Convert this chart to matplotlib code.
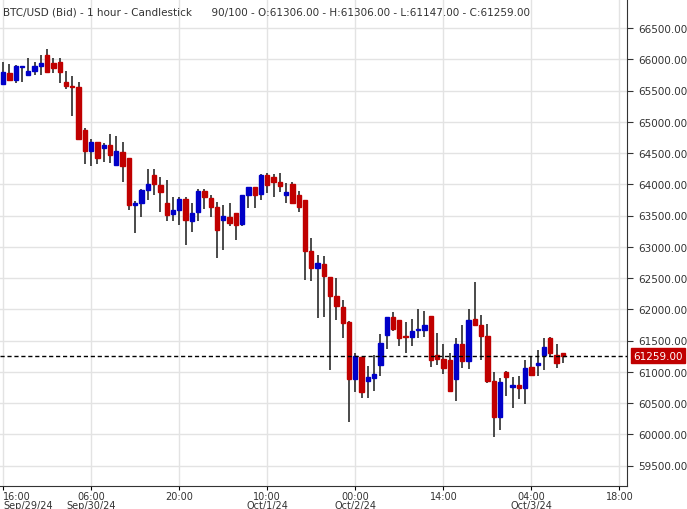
import numpy as np
import matplotlib.pyplot as plt
from matplotlib.patches import Rectangle

# hourly candles starting Sep 29 16:00
opens = [65600,65780,65670,65880,65750,65810,65890,66070,65940,65955,
         65640,65575,65560,64870,64530,64675,64580,64630,64310,64515,
         64420,63670,63700,63910,64150,63990,63700,63525,63590,63765,
         63410,63555,63890,63780,63640,63430,63475,63540,63365,63830,
         63955,63845,64150,64115,64035,63830,64005,63830,63750,62930,
         62660,62725,62515,62210,62035,61795,60885,61235,60850,60900,
         61110,61590,61875,61830,61570,61555,61665,61670,61890,61270,
         61210,61190,60885,61445,61170,61845,61750,61570,60850,60275,
         60995,60755,60790,60740,61075,61110,61270,61540,61270,61306]
highs = [65950,65925,65910,65900,66020,65955,66070,66165,66020,66020,
         65810,65730,65640,64900,64725,64675,64660,64800,64770,64675,
         64420,63730,63925,64245,64245,64115,64070,63795,63800,63800,
         63700,63925,63925,63830,63715,63670,63700,63540,63830,63955,
         63955,64165,64180,64165,64180,64020,64035,63890,63750,63140,
         62870,62850,62515,62500,62150,61810,61300,61235,61090,61270,
         61605,61875,61955,61830,61795,61845,62005,61970,61890,61620,
         61445,61300,61540,61750,62005,62435,61910,61765,60995,60900,
         61010,60915,60930,61190,61250,61350,61540,61555,61445,61306]
lows = [65590,65650,65620,65635,65750,65750,65750,65780,65780,65620,
        65525,65090,64710,64325,64290,64325,64355,64340,64310,64035,
        63590,63220,63475,63750,63830,63555,63410,63410,63350,63030,
        63235,63410,63605,63475,62820,62950,63330,63110,63330,63620,
        63620,63750,63860,63795,63875,63700,63685,63555,62470,62455,
        61860,61875,61030,61830,61540,60200,60675,60580,60580,60690,
        60930,61365,61650,61410,61300,61410,61540,61555,61075,61110,
        60970,60690,60530,61060,61045,61750,61190,60820,59955,60070,
        60610,60420,60565,60485,60930,60930,61030,61235,61060,61147]
closes = [65800,65670,65890,65895,65810,65890,65940,65800,65860,65800,
          65575,65560,64725,64530,64675,64420,64630,64470,64530,64290,
          63670,63700,63910,64005,64005,63875,63510,63590,63765,63430,
          63540,63890,63795,63640,63270,63495,63380,63350,63830,63955,
          63830,64150,63990,64035,63970,63875,63700,63640,62930,62660,
          62740,62530,62210,62050,61780,60885,61250,60675,60915,60965,
          61460,61875,61685,61540,61555,61650,61670,61750,61190,61210,
          61065,60695,61445,61170,61830,61750,61570,60850,60275,60835,
          60915,60790,60740,61060,60950,61140,61400,61300,61140,61259]

yticks = list(range(59500, 67000, 500))
xtick_pos = [0, 14, 28, 42, 56, 70, 84, 98]
xtick_labels = ["16:00\nSep/29/24", "06:00\nSep/30/24", "20:00", "10:00\nOct/1/24",
                "00:00\nOct/2/24", "14:00", "04:00\nOct/3/24", "18:00"]
last_price = 61259.00
title = ("BTC/USD (Bid) - 1 hour - Candlestick      90/100 - O:61306.00 - "
         "H:61306.00 - L:61147.00 - C:61259.00")

fig = plt.figure(figsize=(6.87, 5.10), dpi=100)
ax = fig.add_axes([0.0, 23/510, 627/687, 487/510])

for i, (o, h, l, c) in enumerate(zip(opens, highs, lows, closes)):
    col = "#0000c8" if c >= o else "#c00000"
    ax.vlines(i, l, h, color="#2b2b2b", lw=1.2, zorder=2)
    lo, hi = min(o, c), max(o, c)
    ax.add_patch(Rectangle((i - 0.34, lo), 0.68, max(hi - lo, 12), color=col, zorder=3))

ax.set_xlim(-0.5, 99.2)
ax.set_ylim(59172, 66964)
ax.set_yticks(yticks)
ax.set_yticklabels([f"{v:.2f}" for v in yticks], fontsize=7.5, color="#333")
ax.yaxis.tick_right()
ax.tick_params(axis="y", length=4, pad=4, colors="#333")
ax.set_xticks(xtick_pos)
labels = ax.set_xticklabels(xtick_labels, fontsize=7, color="#333", linespacing=0.95)
labels[0].set_horizontalalignment("left")
ax.tick_params(axis="x", length=3, pad=0.5)
ax.grid(color="#e3e3e3", lw=1)
ax.set_axisbelow(True)
for s in ["top", "left"]:
    ax.spines[s].set_visible(False)
ax.spines["right"].set_color("#333")
ax.spines["bottom"].set_color("#333")

ax.axhline(last_price, color="black", ls=(0, (3, 2)), lw=1, zorder=4)
ax.text(1.01, last_price, f"{last_price:.2f}", transform=ax.get_yaxis_transform(),
        color="white", fontsize=7.5, va="center", ha="left", clip_on=False,
        bbox=dict(boxstyle="square,pad=0.25", fc="#c00000", ec="#c00000"))
ax.text(0.005, 0.975, title, transform=ax.transAxes, fontsize=7.5, color="#333", va="center")

fig.savefig("out.png", dpi=100)
